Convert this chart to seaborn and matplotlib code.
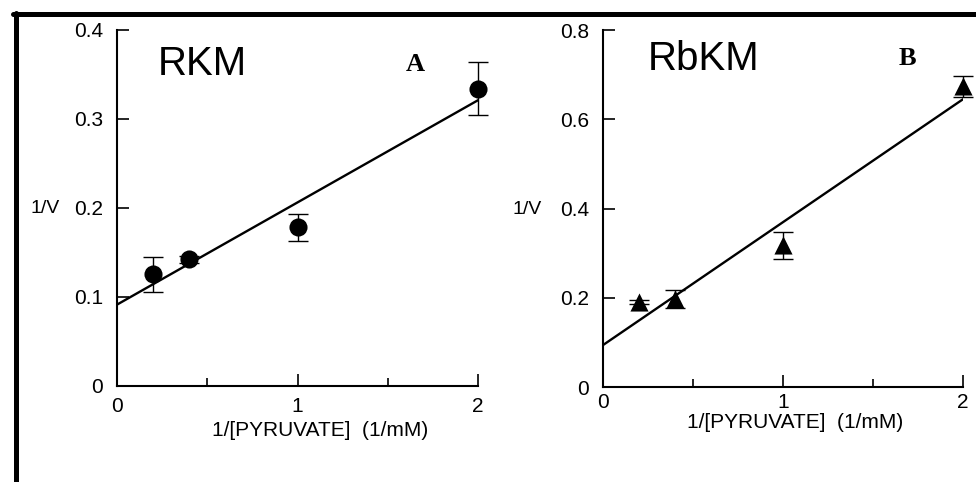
import matplotlib
matplotlib.use("Agg")
import matplotlib.pyplot as plt
from matplotlib.lines import Line2D
from matplotlib.ticker import FixedLocator
import seaborn as sns
import pandas as pd

# Lineweaver-Burk data
pyruvate_inv = [0.2, 0.4, 1.0, 2.0]
rkm_inv_v = [0.125, 0.142, 0.178, 0.334]
rkm_err = [0.020, 0.004, 0.015, 0.030]
rbkm_inv_v = [0.190, 0.198, 0.318, 0.674]
rbkm_err = [0.005, 0.020, 0.030, 0.024]

# fitted lines (end points)
fit_x = [0.0, 2.0]
rkm_fit = [0.091, 0.321]
rbkm_fit = [0.094, 0.645]

x_ticks = [0, 1, 2]
x_ticklabels = ["0", "1", "2"]
rkm_yticks = [0, 0.1, 0.2, 0.3, 0.4]
rkm_yticklabels = ["0", "0.1", "0.2", "0.3", "0.4"]
rbkm_yticks = [0, 0.2, 0.4, 0.6, 0.8]
rbkm_yticklabels = ["0", "0.2", "0.4", "0.6", "0.8"]

sns.set_style("ticks")
plt.rcParams["font.family"] = ["Liberation Sans", "DejaVu Sans"]
plt.rcParams.update({
    "text.color": "black",
    "axes.labelcolor": "black",
    "axes.edgecolor": "black",
    "xtick.color": "black",
    "ytick.color": "black",
})

fig = plt.figure(figsize=(9.76, 4.82), dpi=100)
fig.patch.set_facecolor("white")


def draw_panel(ax, yvals, yerr, fit_y, marker, yticks, yticklabels, name,
               letter, name_pos, letter_pos, xlab_pos, ylab_pos, xpad):
    df = pd.DataFrame({"x": pyruvate_inv, "y": yvals})
    ax.errorbar(df["x"], df["y"], yerr=yerr, fmt="none", ecolor="black",
                elinewidth=1.0, capsize=7, capthick=1.0, zorder=2, clip_on=False)
    sns.scatterplot(data=df, x="x", y="y", marker=marker, s=170, color="black",
                    edgecolor="black", linewidth=0, ax=ax, zorder=3, clip_on=False)
    line_df = pd.DataFrame({"x": fit_x, "y": fit_y})
    sns.lineplot(data=line_df, x="x", y="y", color="black", linewidth=1.7,
                 ax=ax, zorder=2)

    ax.set_xlim(0, 2)
    ax.set_ylim(yticks[0], yticks[-1])
    sns.despine(ax=ax)
    for side in ["left", "bottom"]:
        ax.spines[side].set_linewidth(1.5)

    ax.set_xticks(x_ticks)
    ax.set_xticklabels(x_ticklabels)
    ax.xaxis.set_minor_locator(FixedLocator([0.5, 1.5]))
    ax.set_yticks(yticks)
    ax.set_yticklabels(yticklabels)
    ax.tick_params(axis="x", which="major", direction="in", length=8.5,
                   width=1.2, pad=xpad, labelsize=15)
    ax.tick_params(axis="x", which="minor", direction="in", length=5.5, width=1.2)
    ax.tick_params(axis="y", direction="in", length=8.5, width=1.2, pad=10,
                   labelsize=15)

    ax.set_xlabel("1/[PYRUVATE]  (1/mM)", fontsize=15)
    ax.xaxis.set_label_coords(*xlab_pos)
    ax.xaxis.label.set_va("center")
    ax.set_ylabel("1/V", fontsize=14, rotation=0, ha="center", va="center")
    ax.yaxis.set_label_coords(*ylab_pos)

    ax.text(name_pos[0], name_pos[1], name, transform=ax.transAxes, fontsize=29,
            ha="left", va="baseline")
    ax.text(letter_pos[0], letter_pos[1], letter, transform=ax.transAxes,
            fontsize=19, fontweight="bold", family="Liberation Serif",
            ha="center", va="baseline")


ax_a = fig.add_axes([0.1199, 0.2002, 0.3699, 0.7376])
draw_panel(ax_a, rkm_inv_v, rkm_err, rkm_fit, "o", rkm_yticks, rkm_yticklabels,
           "RKM", "A", (0.114, 0.873), (0.827, 0.886), (0.562, -0.127),
           (-0.199, 0.499), 8)

ax_b = fig.add_axes([0.6178, 0.197, 0.3689, 0.7407])
draw_panel(ax_b, rbkm_inv_v, rbkm_err, rbkm_fit, "^", rbkm_yticks, rbkm_yticklabels,
           "RbKM", "B", (0.125, 0.888), (0.847, 0.902), (0.533, -0.098),
           (-0.211, 0.496), 4)

# scanned frame: thick line on top and left
fig.add_artist(Line2D([0.0133, 1.0], [0.970, 0.970], color="black", linewidth=3.6,
                      transform=fig.transFigure))
fig.add_artist(Line2D([0.0159, 0.0159], [0.0, 0.973], color="black", linewidth=3.6,
                      transform=fig.transFigure))

fig.savefig("out.png", dpi=100, facecolor="white")
